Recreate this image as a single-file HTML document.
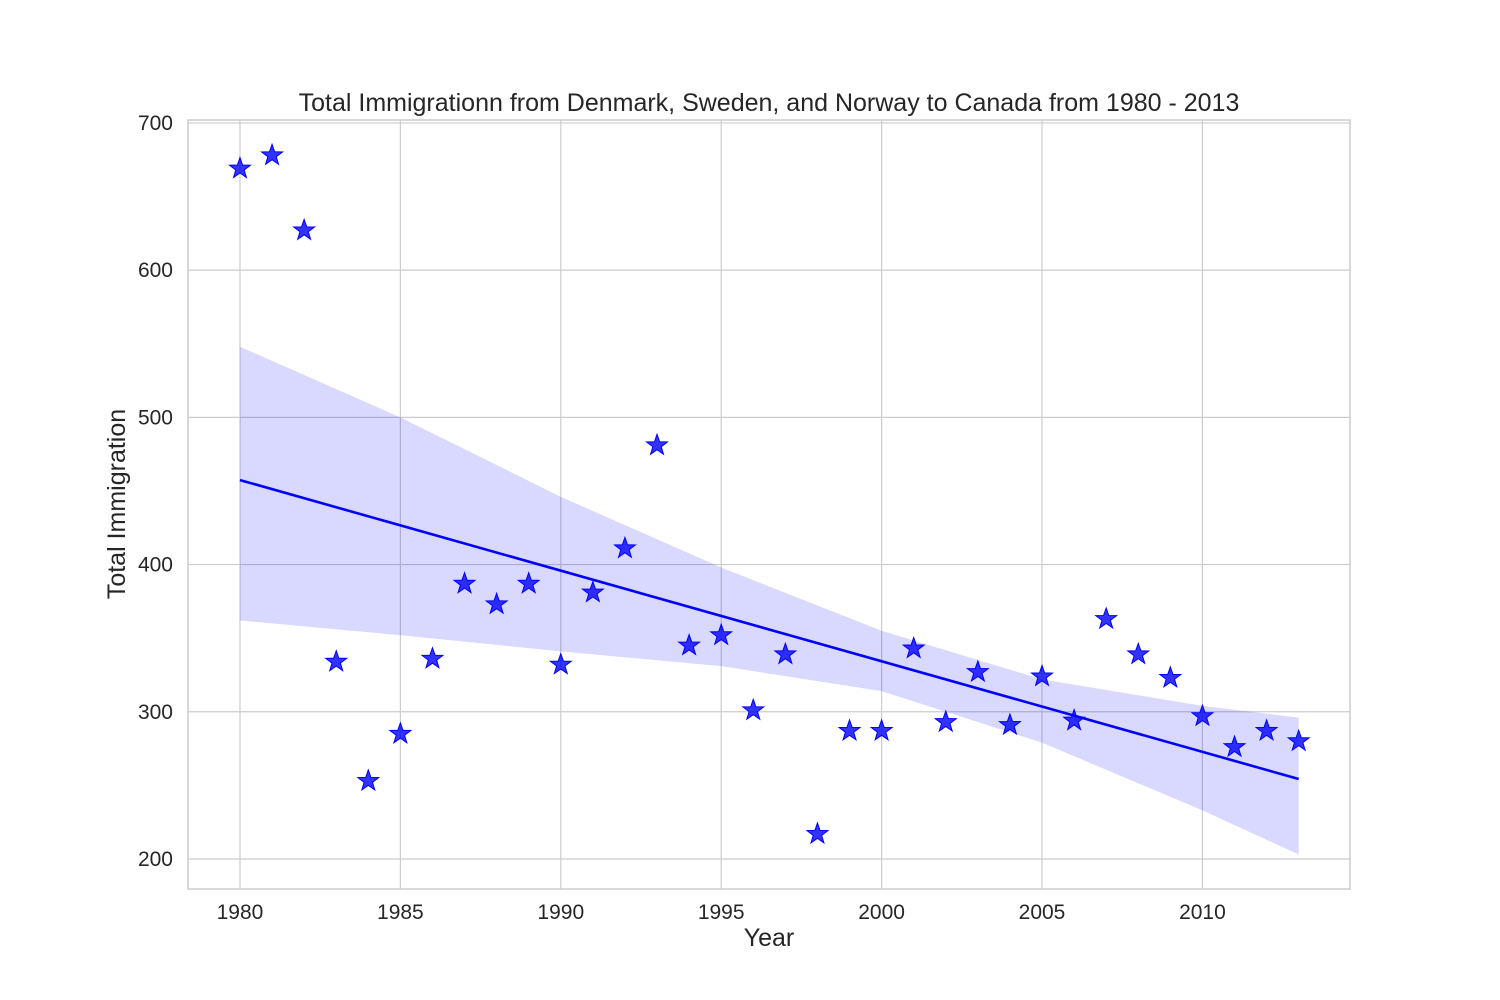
<!DOCTYPE html>
<html><head><meta charset="utf-8"><style>
body{margin:0;background:#fff;}
svg{display:block;font-family:"Liberation Sans","DejaVu Sans",sans-serif;}
</style></head><body>
<svg id="chart" width="1500" height="1000"></svg>
<script>
const years = [1980,1981,1982,1983,1984,1985,1986,1987,1988,1989,1990,1991,1992,1993,1994,1995,1996,1997,1998,1999,2000,2001,2002,2003,2004,2005,2006,2007,2008,2009,2010,2011,2012,2013];
const totals = [669,678,627,334,253,285,336,387,373,387,332,381,411,481,345,352,301,339,217,287,287,343,293,327,291,324,294,363,339,323,297,276,287,280];
const ciYears = [1980,1985,1990,1995,2000,2005,2010,2013];
const ciUpper = [548,500,446,398,355,322,304,296];
const ciLower = [362,352,341,331,314,279,233,203];
const xTicks = [1980,1985,1990,1995,2000,2005,2010];
const yTicks = [200,300,400,500,600,700];

const L=188,R=1350,T=120,B=889;
const x0=1978.38,x1=2014.6,y0=179.6,y1=702;
const sx=v=>L+(v-x0)/(x1-x0)*(R-L);
const sy=v=>B-(v-y0)/(y1-y0)*(B-T);
const svg=document.getElementById('chart');
const NS='http://www.w3.org/2000/svg';
function mk(tag,attrs,parent){const e=document.createElementNS(NS,tag);for(const k in attrs)e.setAttribute(k,attrs[k]);(parent||svg).appendChild(e);return e;}

yTicks.forEach(v=>{
  const l=mk('line',{x1:L,x2:R,y1:sy(v),y2:sy(v),stroke:'#cccccc','stroke-width':1.2});
  
  
  const t=mk('text',{x:L-15,y:sy(v)+7,'text-anchor':'end','font-size':21,fill:'#262626'});
  t.textContent=v;
  
  
});
xTicks.forEach(v=>{
  const l=mk('line',{x1:sx(v),x2:sx(v),y1:T,y2:B,stroke:'#cccccc','stroke-width':1.2});
  
  
  const t=mk('text',{x:sx(v),y:B+30,'text-anchor':'middle','font-size':21,fill:'#262626'});
  t.textContent=v;
  
  
});

const n=years.length;
const mx=years.reduce((a,b)=>a+b)/n, my=totals.reduce((a,b)=>a+b)/n;
let sxx=0,sxy=0;years.forEach((x,i)=>{sxx+=(x-mx)**2;sxy+=(x-mx)*(totals[i]-my);});
const slope=sxy/sxx, icpt=my-slope*mx;
const xmin=years[0],xmax=years[n-1];

const upPts=ciYears.map((y,i)=>sx(y)+','+sy(ciUpper[i]));
const loPts=ciYears.map((y,i)=>sx(y)+','+sy(ciLower[i])).reverse();
const band=mk('path',{d:'M'+upPts.join('L')+'L'+loPts.join('L')+'Z',fill:'#0000ff','fill-opacity':0.15,stroke:'none'});


const rl=mk('line',{x1:sx(xmin),y1:sy(icpt+slope*xmin),x2:sx(xmax),y2:sy(icpt+slope*xmax),stroke:'#0000ff','stroke-width':2.6});



function star(cx,cy,r){let p=[];for(let i=0;i<10;i++){const a=-Math.PI/2+i*Math.PI/5;const rr=i%2?r*0.4:r;p.push((cx+rr*Math.cos(a)).toFixed(2)+','+(cy+rr*Math.sin(a)).toFixed(2));}return p.join(' ');}
years.forEach((y,i)=>{
  const s=mk('polygon',{points:star(sx(y),sy(totals[i]),11),fill:'#0000ff','fill-opacity':0.8,stroke:'#0000ff','stroke-width':1});
  
  
});

const fr=mk('rect',{x:L,y:T,width:R-L,height:B-T,fill:'none',stroke:'#cccccc','stroke-width':1.5});


</script>
<div style="position:absolute;left:0;top:0;width:1500px;height:1000px;pointer-events:none;font-family:'Liberation Sans','DejaVu Sans',sans-serif;color:#262626;">
  <div style="position:absolute;left:0;width:1538px;top:88px;text-align:center;font-size:25px;line-height:30px;">Total Immigrationn from Denmark, Sweden, and Norway to Canada from 1980 - 2013</div>
  <div style="position:absolute;left:0;width:1538px;top:923px;text-align:center;font-size:25px;line-height:30px;">Year</div>
  <div style="position:absolute;left:117px;top:504px;transform:translate(-50%,-50%) rotate(-90deg);font-size:25px;line-height:30px;white-space:nowrap;">Total Immigration</div>
</div>
</body></html>
